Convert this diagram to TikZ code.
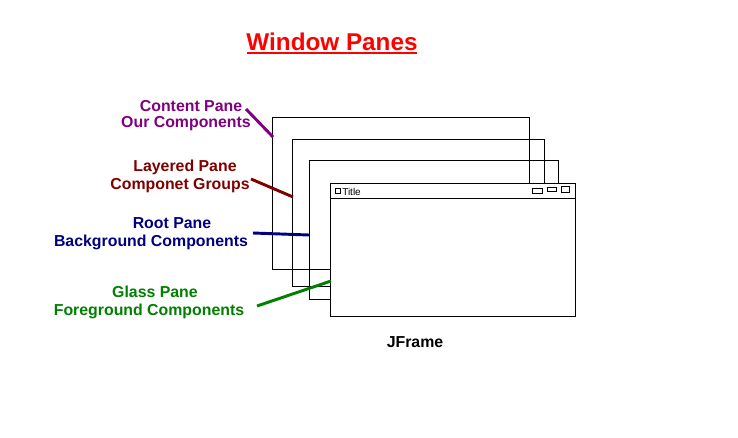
\documentclass[tikz,border=0pt]{standalone}
\usepackage{fontspec}
\setmainfont{Liberation Sans}
\definecolor{cpurple}{RGB}{128,0,128}
\definecolor{cmaroon}{RGB}{128,0,0}
\definecolor{cnavy}{RGB}{0,0,128}
\definecolor{cgreen}{RGB}{0,128,0}
\definecolor{cred}{RGB}{255,0,0}
\begin{document}
\begin{tikzpicture}[x=0.75pt,y=-0.75pt,
  pane/.style={draw=black,line width=0.75pt},
  lbl/.style={font=\bfseries\fontsize{11.9}{14}\selectfont,inner sep=0pt,anchor=center},
  leader/.style={line width=2.2pt},
  btn/.style={draw=black,line width=0.75pt}]
\useasboundingbox (0,0) rectangle (738,437);
\fill[white] (0,0) rectangle (738,437);

% heading
\node[font=\bfseries\fontsize{18.2}{21}\selectfont,text=cred,inner sep=0pt] (head) at (332,42) {Window Panes};
\draw[cred,line width=1.6pt] (247,53) -- (417,53);

% stacked panes (outlines only)
\draw[pane] (272,117) rectangle (529,269);
\draw[pane] (292,139) rectangle (544,286);
\draw[pane] (309,160) rectangle (558,299);

% front frame
\draw[pane,fill=white] (330,183) rectangle (575,316);
\draw[pane] (330,198) -- (575,198);
\draw[btn] (335,188) rectangle (340,193);
\node[font=\fontsize{7.5}{9}\selectfont,anchor=west,inner sep=0pt] (ttl) at (342,192) {Title};
\draw[btn] (532,188) rectangle (542,193);
\draw[btn] (547,187) rectangle (556,191);
\draw[btn] (561,186) rectangle (569,192);

% labels
\node[lbl,text=cpurple] (cp1) at (191,106) {Content Pane};
\node[lbl,text=cpurple] (cp2) at (186,124) {Our Components};
\node[lbl,text=cmaroon] (lp1) at (185,167) {Layered Pane};
\node[lbl,text=cmaroon] (lp2) at (180,186) {Componet Groups};
\node[lbl,text=cnavy] (rp1) at (172,223) {Root Pane};
\node[lbl,text=cnavy] (rp2) at (151,242) {Background Components};
\node[lbl,text=cgreen] (gp1) at (155,292) {Glass Pane};
\node[lbl,text=cgreen] (gp2) at (149,311) {Foreground Components};
\node[lbl,text=black] (jf) at (415,342) {JFrame};

% leader lines
\coordinate (cpA) at (246,109); \coordinate (cpB) at (273,137);
\coordinate (lpA) at (251,179); \coordinate (lpB) at (293,197);
\coordinate (rpA) at (253,233); \coordinate (rpB) at (309,235);
\coordinate (gpA) at (257,306); \coordinate (gpB) at (331,281);
\draw[leader,cpurple] (cpA) -- (cpB);
\draw[leader,cmaroon] (lpA) -- (lpB);
\draw[leader,cnavy] (rpA) -- (rpB);
\draw[leader,cgreen] (gpA) -- (gpB);
\end{tikzpicture}
\end{document}
